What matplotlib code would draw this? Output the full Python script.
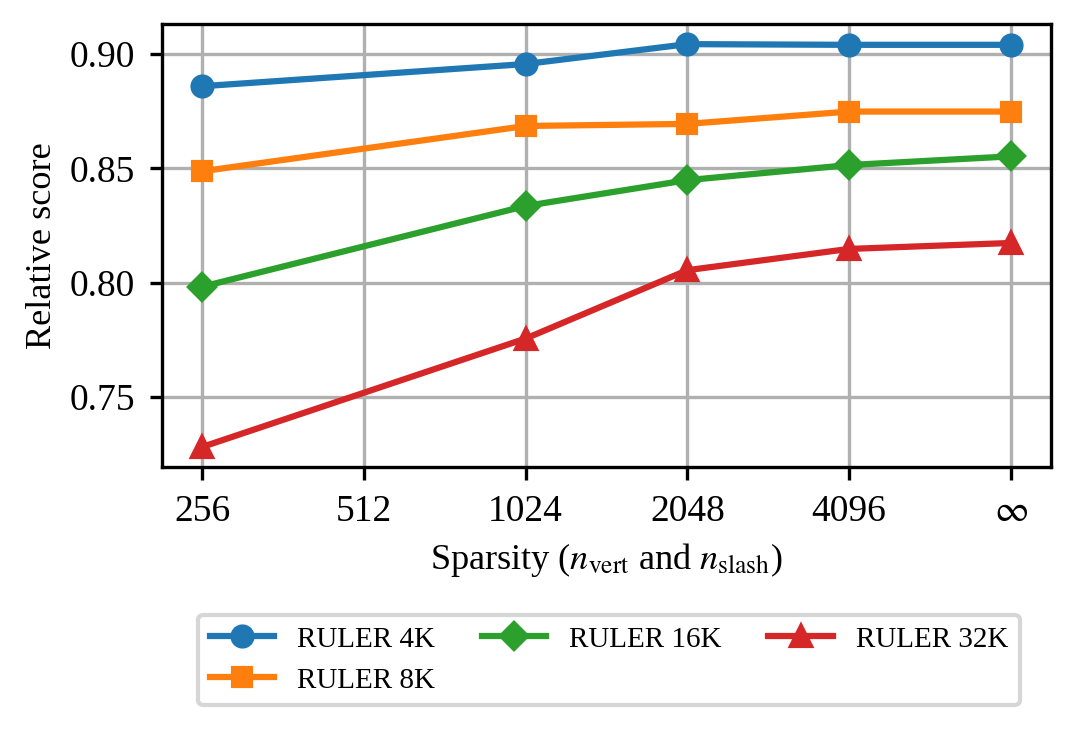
import matplotlib
matplotlib.use("Agg")
import matplotlib.pyplot as plt

# sparsity settings (512 has a tick but no measurement)
tick_labels = ["256", "512", "1024", "2048", "4096", r"$\infty$"]
point_idx = [0, 2, 3, 4, 5]

ruler_4k = [0.886, 0.8957, 0.9044, 0.9041, 0.9041]
ruler_8k = [0.8488, 0.8686, 0.8695, 0.8749, 0.8749]
ruler_16k = [0.7983, 0.8336, 0.8449, 0.8515, 0.8553]
ruler_32k = [0.7282, 0.7756, 0.8055, 0.8148, 0.8174]

plt.rcParams["font.family"] = ["Liberation Serif", "DejaVu Serif"]
plt.rcParams["mathtext.fontset"] = "stix"
plt.rcParams["font.size"] = 9
plt.rcParams["xtick.major.size"] = 3
plt.rcParams["ytick.major.size"] = 3

fig = plt.figure(figsize=(1078 / 300, 732 / 300), dpi=300)
ax = fig.add_axes([162 / 1078, 1 - 467 / 732, (1051 - 162) / 1078, (467 - 24) / 732])

ax.plot(point_idx, ruler_4k, marker="o", ms=4.8, label="RULER 4K")
ax.plot(point_idx, ruler_8k, marker="s", ms=4.5, label="RULER 8K")
ax.plot(point_idx, ruler_16k, marker="D", ms=4.5, label="RULER 16K")
ax.plot(point_idx, ruler_32k, marker="^", ms=5, label="RULER 32K")

ax.set_xticks(range(len(tick_labels)))
ax.set_xticklabels(tick_labels)
ax.set_yticks([0.75, 0.80, 0.85, 0.90])
ax.grid(True, color="#b0b0b0", linewidth=0.8)
ax.set_axisbelow(True)
ax.set_xlabel(r"Sparsity ($n_{\mathrm{vert}}$ and $n_{\mathrm{slash}}$)", fontsize=8.7, labelpad=3)
ax.set_ylabel("Relative score", fontsize=8.7, labelpad=2.5)

fig.legend(loc="upper center", bbox_to_anchor=(609 / 1078, 1 - 600 / 732),
           ncol=3, fontsize=7, handlelength=2.2, columnspacing=1.6)

fig.savefig("out.png", dpi=300)
